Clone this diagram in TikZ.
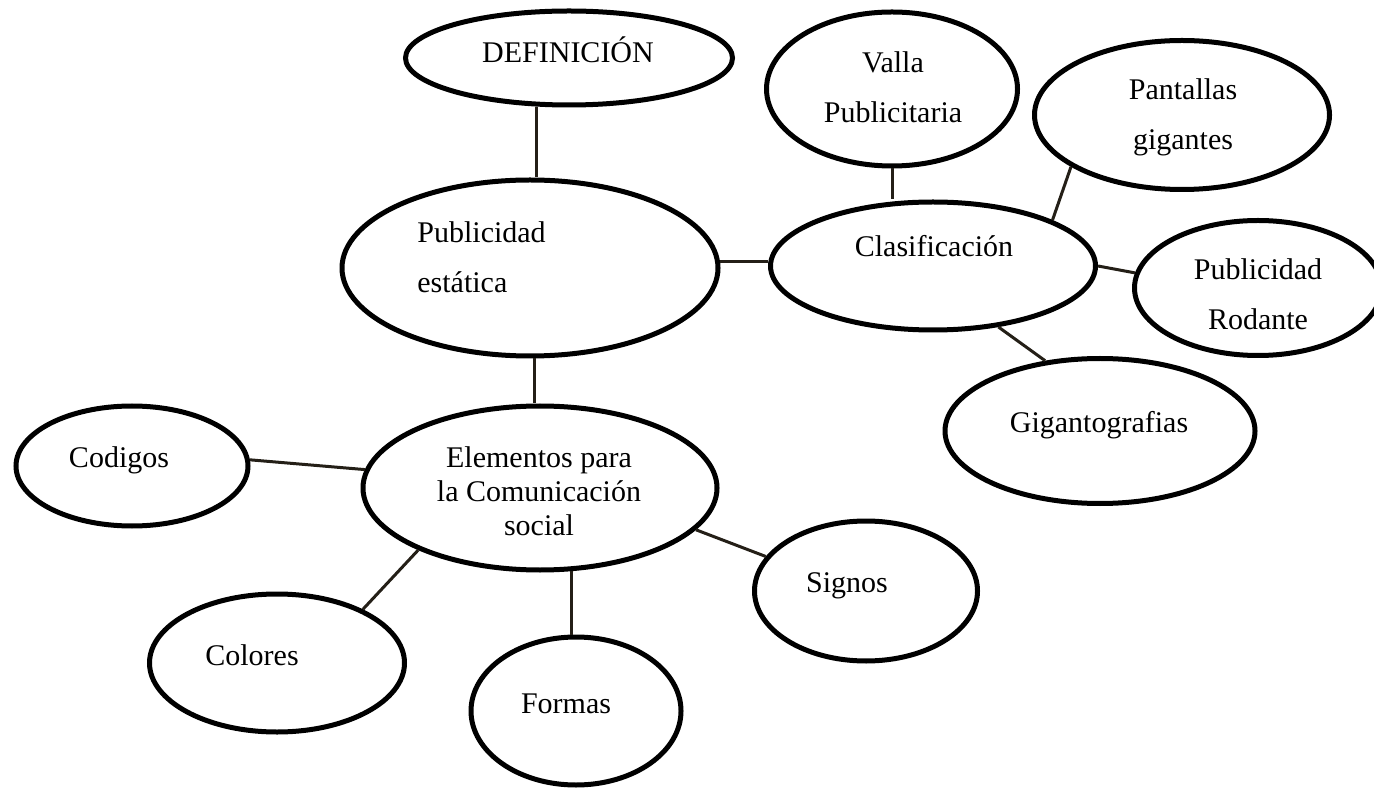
\documentclass[tikz,border=0pt]{standalone}
\usepackage{fontspec}
\setmainfont{Liberation Serif}
\usepackage{tikz}
\usetikzlibrary{shapes}
\definecolor{darkline}{rgb}{0.14, 0.12, 0.09}

\begin{document}
\begin{tikzpicture}[x=0.5pt, y=-0.5pt,
    bubble/.style={ellipse, draw, line width=2.5pt, inner sep=0pt},
    conn/.style={darkline, line width=1.5pt},
    txt/.style={inner sep=0pt, anchor=base, font=\fontsize{15}{25}\selectfont}]
      \useasboundingbox (0,0) rectangle (1374,790);
      \node[bubble, minimum width=163.5pt, minimum height=47pt] (def) at (569, 58) {};
      \node[bubble, minimum width=188pt, minimum height=88pt] (pe) at (530, 268) {};
      \node[bubble, minimum width=162.5pt, minimum height=64pt] (clas) at (933, 266) {};
      \node[bubble, minimum width=125.5pt, minimum height=77pt] (valla) at (892, 89) {};
      \node[bubble, minimum width=147.5pt, minimum height=74.5pt] (pant) at (1182, 115) {};
      \node[bubble, minimum width=123.5pt, minimum height=67.5pt] (rod) at (1258, 288) {};
      \node[bubble, minimum width=155pt, minimum height=72.5pt] (gig) at (1100, 431) {};
      \node[bubble, minimum width=177pt, minimum height=82pt] (elem) at (540, 488) {};
      \node[bubble, minimum width=116pt, minimum height=60pt] (cod) at (132, 466) {};
      \node[bubble, minimum width=127.5pt, minimum height=69pt] (col) at (277, 663) {};
      \node[bubble, minimum width=105pt, minimum height=74pt] (form) at (576, 711) {};
      \node[bubble, minimum width=111.5pt, minimum height=70pt] (sig) at (866, 591) {};
      % texts (multi-line ones sit on the baseline of their last line)
      \node[txt] (def-t) at (568, 63) {DEFINICIÓN};
      \node[txt, anchor=base west, align=left] (pe-t) at (417, 293) {Publicidad\\estática};
      \node[txt] (clas-t) at (934, 257) {Clasificación};
      \node[txt, align=center] (valla-t) at (893, 123) {Valla\\Publicitaria};
      \node[txt, align=center] (pant-t) at (1183, 150) {Pantallas\\gigantes};
      \node[txt, align=center] (rod-t) at (1258, 330) {Publicidad\\Rodante};
      \node[txt] (gig-t) at (1099, 432) {Gigantografias};
      \node[txt, align=center, font=\fontsize{15}{17}\selectfont] (elem-t) at (539, 535) {Elementos para\\la Comunicación\\social};
      \node[txt] (cod-t) at (119, 467) {Codigos};
      \node[txt] (col-t) at (252, 665) {Colores};
      \node[txt] (form-t) at (566, 713) {Formas};
      \node[txt] (sig-t) at (847, 592) {Signos};
      % connectors
      \draw[conn] (def.236) -- (def.236 |- pe.north);
      \draw[conn] (pe.2) -- (pe.2 -| clas.west);
      \draw[conn] (valla.south) -- (valla.south |- clas.north);
      \draw[conn] (pant.205) -- (clas.21);
      \draw[conn] (clas.east) -- (rod.173);
      \draw[conn] (clas.317) -- (gig.128);
      \draw[conn] (pe.273) -- (pe.273 |- elem.north);
      \draw[conn] (cod.3) -- (elem.174);
      \draw[conn] (elem.207) -- (col.32);
      \draw[conn] (elem.291) -- (elem.291 |- form.north);
      \draw[conn] (elem.345) -- (sig.161);
\end{tikzpicture}
\end{document}
